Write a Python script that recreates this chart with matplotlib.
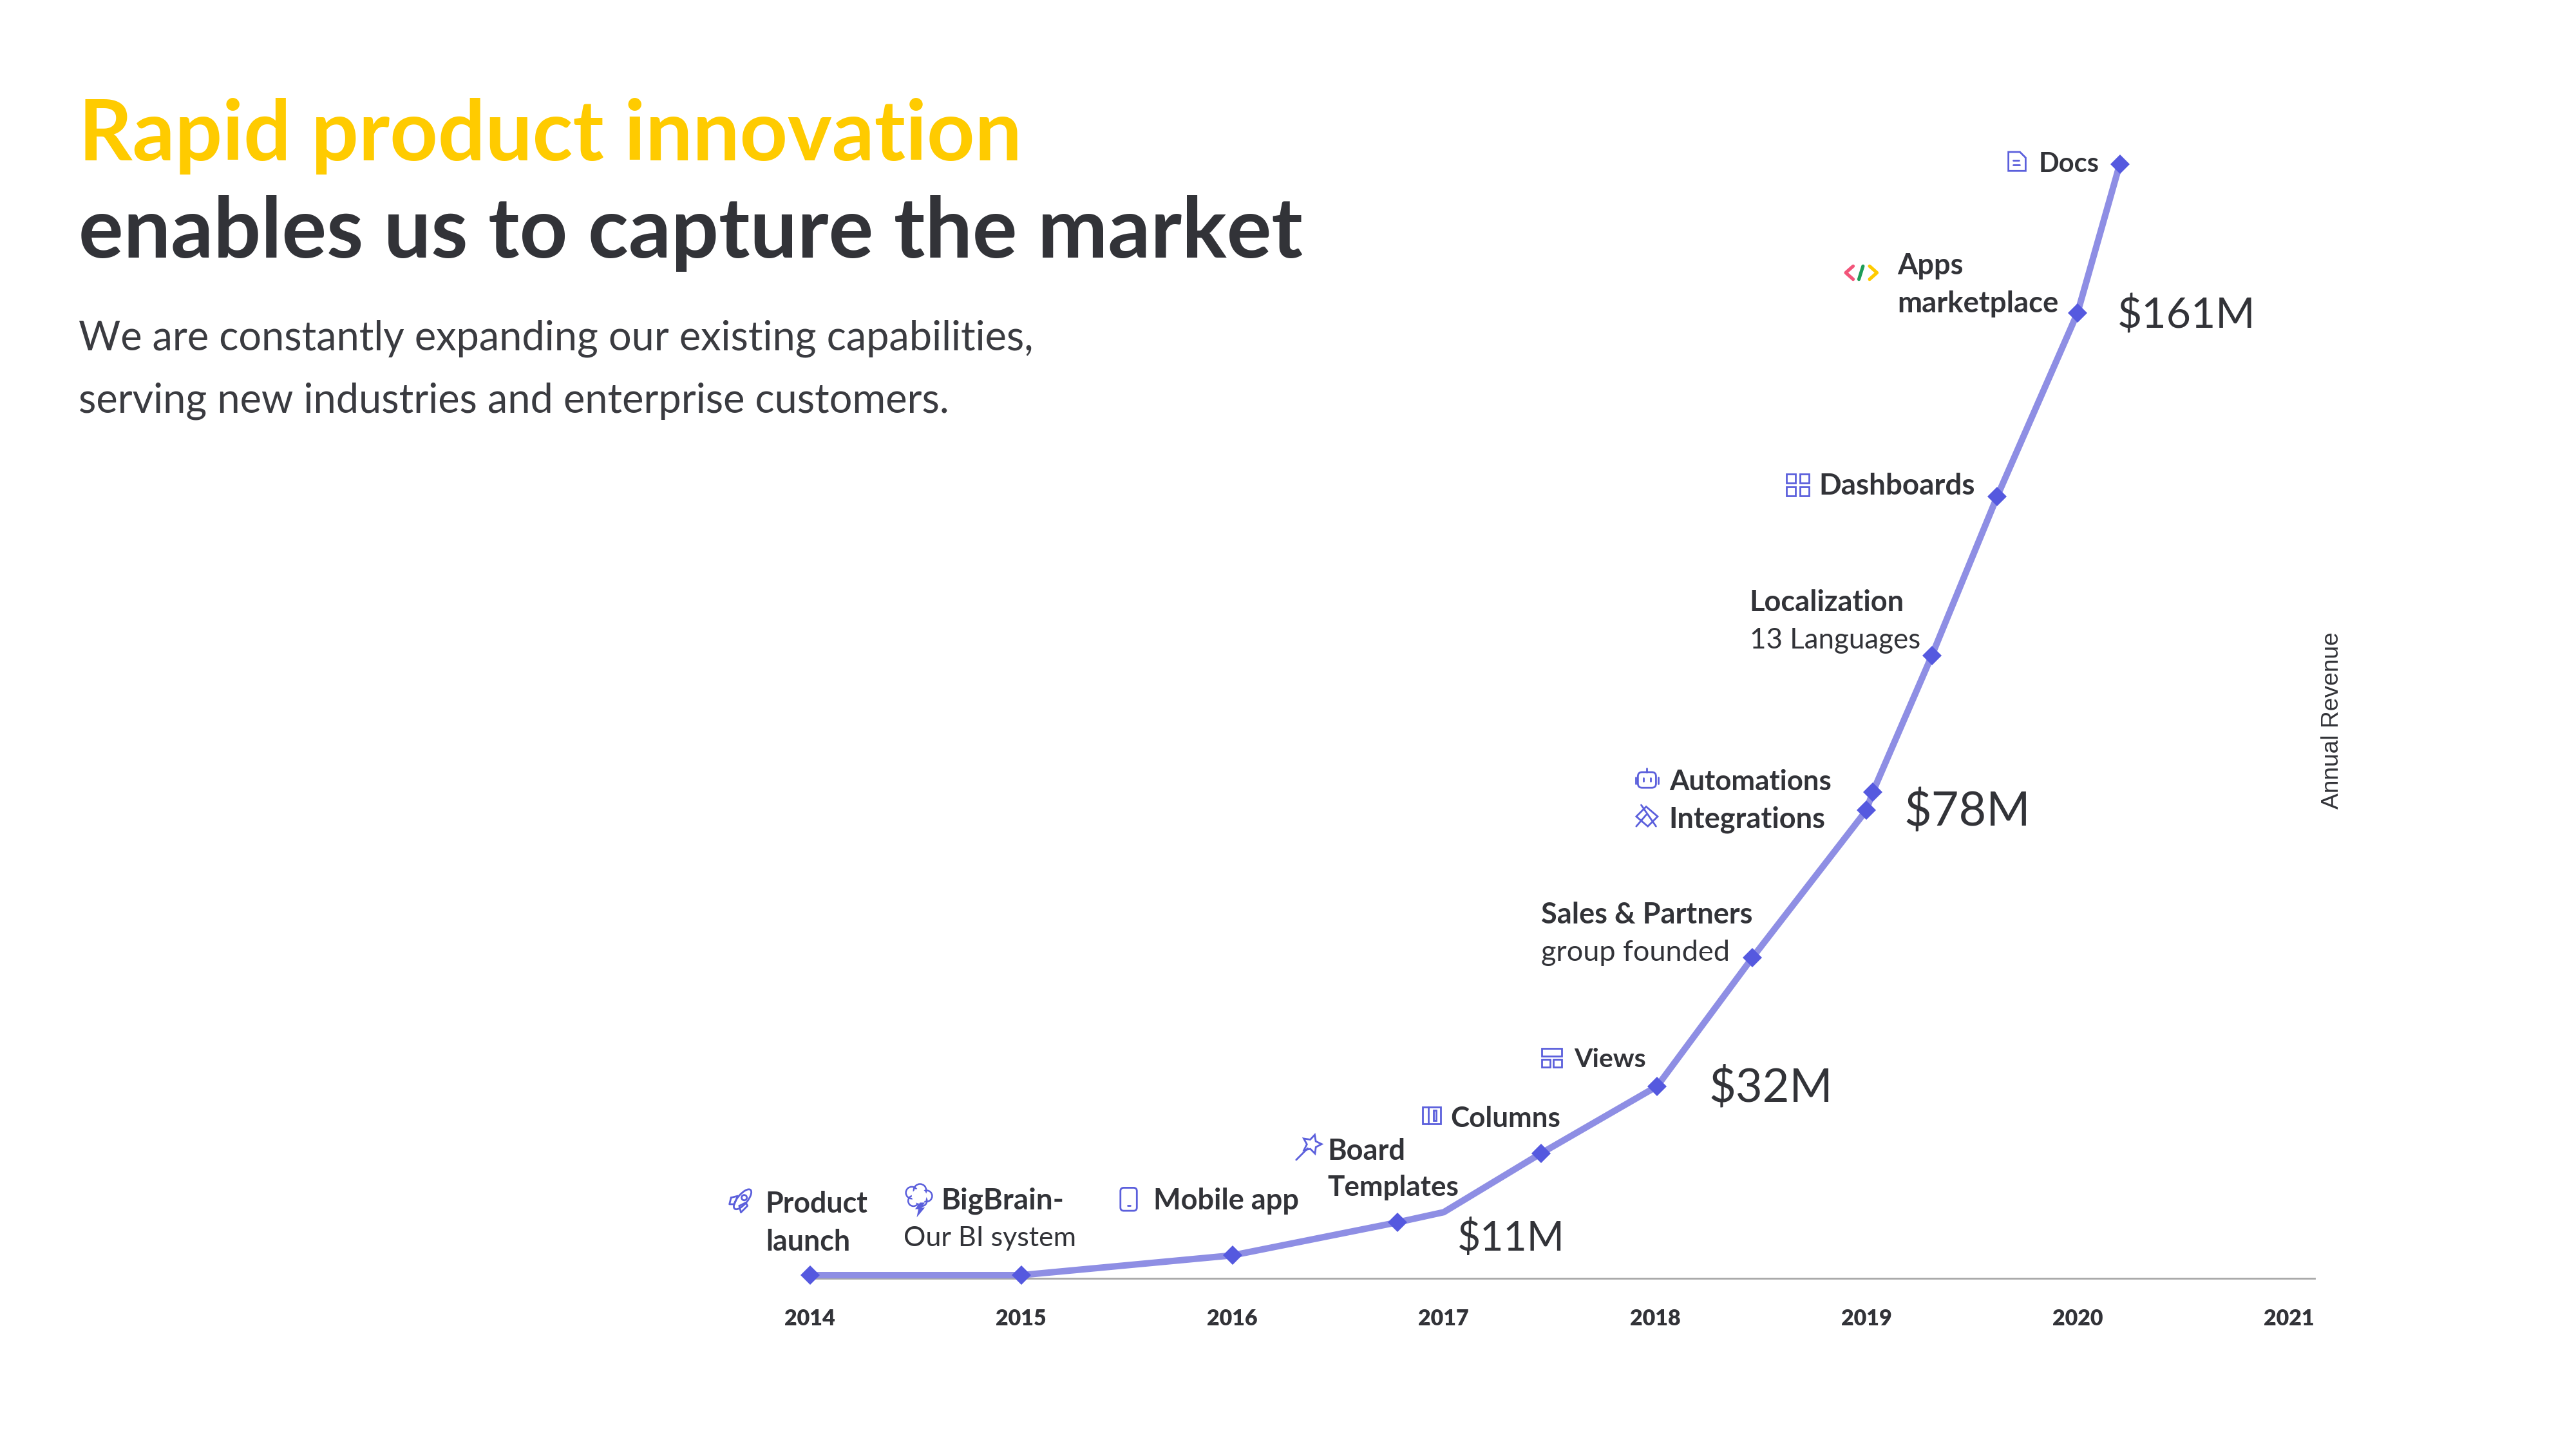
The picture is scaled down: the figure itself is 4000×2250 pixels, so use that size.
import numpy as np
import matplotlib.pyplot as plt
from matplotlib.patches import Rectangle, FancyBboxPatch, Circle, Ellipse, Polygon

plt.rcParams['font.family'] = ['Lato', 'DejaVu Sans']

# revenue curve, $M against year
years = [2014, 2015, 2016, 2016.78, 2017, 2017.46, 2018.01, 2018.46, 2019.0, 2019.03, 2019.31, 2019.62, 2020.0, 2020.2]
revenue = [0.5, 0.5, 3.8, 9.3, 11, 20.8, 32, 53.4, 78, 81, 103.8, 130.4, 161, 185.8]
has_marker = [1, 1, 1, 1, 0, 1, 1, 1, 1, 1, 1, 1, 1, 1]
tick_years = [2014, 2015, 2016, 2017, 2018, 2019, 2020, 2021]

title_top = 'Rapid product innovation'
title_bottom = 'enables us to capture the market'
subtitle = ['We are constantly expanding our existing capabilities,',
            'serving new industries and enterprise customers.']
bold_labels = ['Product', 'launch', 'BigBrain-', 'Mobile app', 'Board', 'Templates', 'Columns', 'Views',
               'Sales & Partners', 'Automations', 'Integrations', 'Localization', 'Dashboards',
               'Apps', 'marketplace', 'Docs']
bold_pos = [(466, 733), (466, 756), (573, 731), (702, 731), (808, 701), (808, 723), (883, 681), (958, 645),
            (938, 557), (1016, 476), (1016, 499), (1065, 367), (1107, 296), (1155, 162), (1155, 185), (1241, 100)]
bold_size = [12.9, 12.9, 13.2, 13, 13, 12.7, 12.7, 11.8, 13, 12.6, 13, 13, 13.2, 13, 13.1, 12]
light_labels = ['Our BI system', 'group founded', '13 Languages']
light_pos = [(550, 754), (938, 580), (1065, 390)]
light_size = [12.4, 13, 12.65]
money_labels = ['$11M', '$32M', '$78M', '$161M']
money_pos = [(887, 754), (1040, 662), (1159, 494), (1289, 192)]
money_size = [18, 20.8, 21.2, 19]

DARK = '#323338'
YELLOW = '#FFCB00'
LINE = '#8E8EE4'
MARK = '#5559DF'
ICON = '#5B5FDC'

fig = plt.figure(figsize=(16, 9), dpi=250)

# chart axes, placed so 2014 and the baseline land where they do in the slide
x0, x1 = 493 / 1568, 1409 / 1568
y0 = 1 - 778 / 882
y_top = 1 - 60 / 882
ax = fig.add_axes([x0, y0, x1 - x0, y_top - y0])
ax.set_xlim(2014, 2014 + (1409 - 493) / 128.6)
ax.set_ylim(0, (778 - 60) / 3.65)
ax.patch.set_alpha(0)
for s in ['top', 'left', 'right']:
    ax.spines[s].set_visible(False)
ax.spines['bottom'].set_color('#A8A8A8')
ax.spines['bottom'].set_linewidth(0.8)
ax.set_yticks([])
ax.set_xticks(tick_years)
ax.set_xticklabels(tick_years, fontsize=9.8, fontweight='heavy', color=DARK)
ax.tick_params(axis='x', length=0, pad=13.5)

yrs = np.array(years)
rev = np.array(revenue)
ax.plot(yrs, rev, color=LINE, linewidth=2.9, solid_joinstyle='miter', clip_on=False, zorder=3)
m = np.array(has_marker) == 1
ax.plot(yrs[m], rev[m], linestyle='none', marker='D', color=MARK, markersize=6.2, markeredgewidth=0,
        clip_on=False, zorder=4)

# overlay in slide pixels (1568 wide) for the text and icons
ov = fig.add_axes([0, 0, 1, 1])
ov.set_xlim(0, 1568)
ov.set_ylim(882, 0)
ov.axis('off')
ov.patch.set_alpha(0)

ov.text(48, 83, title_top, fontsize=37.4, fontweight='bold', color=YELLOW, va='center')
ov.text(48, 142, title_bottom, fontsize=37.5, fontweight='bold', color=DARK, va='center')
ov.text(48, 206, subtitle[0], fontsize=18.15, color='#3A3B40', va='center')
ov.text(48, 244, subtitle[1], fontsize=18.15, color='#3A3B40', va='center')

for t, (x, y), fs in zip(bold_labels, bold_pos, bold_size):
    ov.text(x, y, t, fontsize=fs, fontweight='bold', color=DARK, va='center')
for t, (x, y), fs in zip(light_labels, light_pos, light_size):
    ov.text(x, y, t, fontsize=fs, color=DARK, va='center')
for t, (x, y), fs in zip(money_labels, money_pos, money_size):
    ov.text(x, y, t, fontsize=fs, color=DARK, va='center')
ov.text(1419.5, 438.5, 'Annual Revenue', fontsize=10.7, color=DARK, rotation=90, va='center', ha='center',
        family='Liberation Sans')

# icons
lw = 0.8
def box(x, y, w, h):
    ov.add_patch(Rectangle((x, y), w, h, fill=False, ec=ICON, lw=lw))
def seg(xs, ys, c=ICON, w=lw):
    ov.plot(xs, ys, color=c, lw=w, solid_capstyle='round')

# rocket
ov.add_patch(Ellipse((452, 730), 6, 15, angle=40, fill=False, ec=ICON, lw=lw))
ov.add_patch(Circle((453, 729), 1.6, fill=False, ec=ICON, lw=lw))
seg([445, 449, 447, 444, 445], [729, 728, 733, 733, 729])
seg([450, 451, 455, 454, 450], [734, 738, 734, 732, 734])
# brain with bolt
for cx, cy, r in [(555, 726, 3.6), (560, 724.5, 3.8), (564, 728, 3.4), (556, 731, 3.2), (561, 731, 3.2)]:
    ov.add_patch(Circle((cx, cy), r, fill=False, ec=ICON, lw=lw * 0.9))
ov.add_patch(Circle((559.5, 728), 4.5, fc='white', ec='none', zorder=3))
seg([557, 559, 558], [725, 728, 731])
seg([562, 560, 562], [725, 728, 730])
ov.add_patch(Polygon([(560, 732), (563, 732), (561, 735), (563, 735), (558, 741), (559, 736), (557, 736)],
                     fc=ICON, ec='none', zorder=4))
# phone
ov.add_patch(FancyBboxPatch((682, 723), 10, 14, boxstyle='round,pad=0,rounding_size=2', fill=False, ec=ICON, lw=lw))
seg([686.5, 687.8], [733.8, 733.8])
# wand
star = [(798.5 + r * np.sin(a), 696.5 - r * np.cos(a)) for a, r in
        zip(np.arange(10) * np.pi / 5 + 0.3, [6, 3] * 5)]
ov.add_patch(Polygon(star, fill=False, ec=ICON, lw=lw))
seg([789, 796], [706, 699])
# columns
box(866, 674, 11, 10)
seg([869.5, 869.5], [674, 684])
box(872.5, 676, 1.5, 6)
# views
box(938.5, 638, 12, 5)
box(938.5, 645, 5, 4.5)
box(945.5, 645, 5, 4.5)
# robot
ov.add_patch(FancyBboxPatch((997, 470), 11, 9.5, boxstyle='round,pad=0,rounding_size=2.5', fill=False, ec=ICON, lw=lw))
seg([1000.5, 1000.5], [473.5, 475.5])
seg([1004.5, 1004.5], [473.5, 475.5])
seg([1002.5, 1002.5], [467.5, 470])
seg([995.7, 995.7], [473, 477])
seg([1009.3, 1009.3], [473, 477])
# integrations
ov.add_patch(Polygon([(1002, 491), (1009, 497), (1003, 503), (996, 497)], fill=False, ec=ICON, lw=lw))
seg([999, 1008], [490, 503])
seg([1002, 996], [496, 503])
# dashboards
for px, py in [(1087.5, 288.5), (1095.5, 288.5), (1087.5, 296.5), (1095.5, 296.5)]:
    box(px, py, 5.5, 5.5)
# apps code brackets
seg([1128, 1123.5, 1128], [162, 166, 170], '#F2557A', 1.5)
seg([1134, 1131.5], [162, 170], '#1F9D57', 1.5)
seg([1138, 1142.5, 1138], [162, 166, 170], '#FFCB00', 1.5)
# docs
ov.add_patch(Polygon([(1222.5, 92.5), (1229.5, 92.5), (1233, 96), (1233, 104), (1222.5, 104)], fill=False, ec=ICON, lw=lw))
seg([1225.5, 1229], [97.5, 97.5])
seg([1225.5, 1229.5], [100.5, 100.5])

fig.savefig('out.png', dpi=250, facecolor='white')
